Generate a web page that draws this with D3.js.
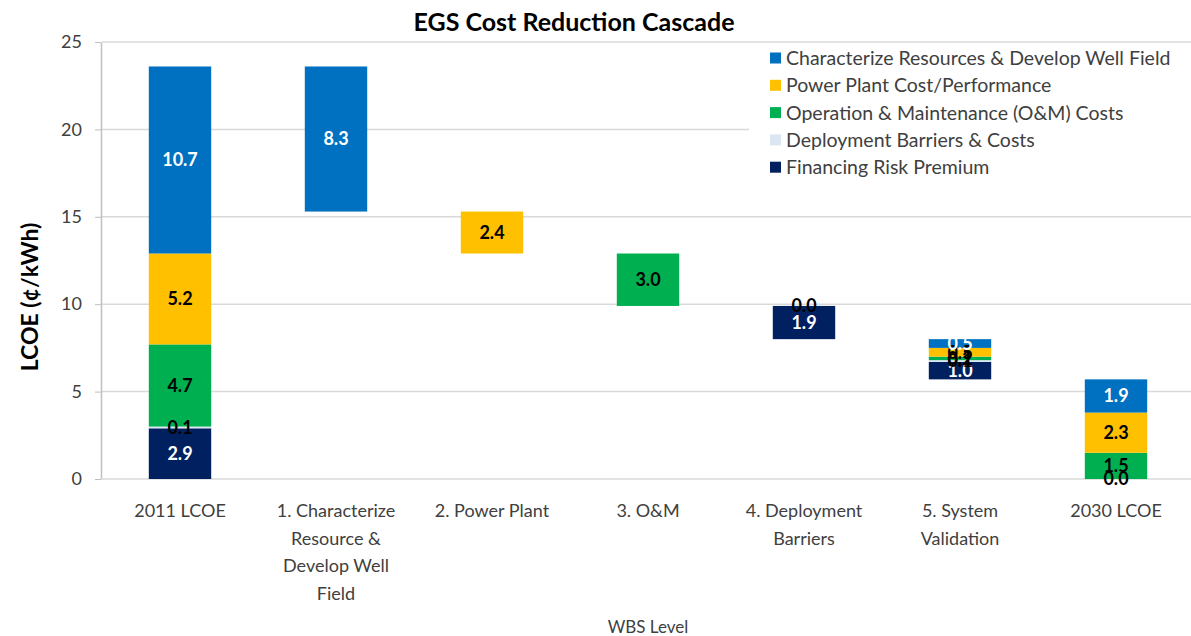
<!DOCTYPE html>
<html>
<head>
<meta charset="utf-8">
<script src="https://cdn.jsdelivr.net/npm/d3@7"></script>
<style>
  body { margin: 0; background: #fff; }
  svg { font-family: Lato, "Open Sans", sans-serif; }
  .axis path, .axis line { stroke: #BFBFBF; }
  .axis text { fill: #404040; font-size: 18px; font-family: Lato, sans-serif; }
</style>
</head>
<body>
<div id="chart"></div>
<script>
const width = 1191,
  height = 636,
  margin = { top: 42, bottom: 157, left: 102, right: -3 };

// chart data
const categories = ["2011 LCOE", "1. Characterize Resource & Develop Well Field", "2. Power Plant",
  "3. O&M", "4. Deployment Barriers", "5. System Validation", "2030 LCOE"];
const categoryLines = [["2011 LCOE"], ["1. Characterize", "Resource &", "Develop Well", "Field"],
  ["2. Power Plant"], ["3. O&M"], ["4. Deployment", "Barriers"], ["5. System", "Validation"], ["2030 LCOE"]];

const seriesNames = ["Characterize Resources & Develop Well Field", "Power Plant Cost/Performance",
  "Operation & Maintenance (O&M) Costs", "Deployment Barriers & Costs", "Financing Risk Premium"];
const seriesColors = ["#0070C0", "#FFC000", "#00B050", "#DCE6F2", "#002060"];
const labelColors = ["#fff", "#000", "#000", "#000", "#fff"];

// invisible base under each floating bar
const baseValues = [0, 15.3, 12.9, 9.9, 8.0, 5.7, 0];
const financingValues = [2.9, null, null, null, 1.9, 1.0, null];
const deploymentValues = [0.1, null, null, null, 0.0, 0.1, 0.0];
const omValues = [4.7, null, null, 3.0, null, 0.2, 1.5];
const powerPlantValues = [5.2, null, 2.4, null, null, 0.5, 2.3];
const characterizeValues = [10.7, 8.3, null, null, null, 0.5, 1.9];

const yTicks = [0, 5, 10, 15, 20, 25];

// stacking order from bottom to top
const keys = ["base", "financing", "deployment", "om", "power", "characterize"];
const seriesIndex = { characterize: 0, power: 1, om: 2, deployment: 3, financing: 4 };

const rows = categories.map((c, i) => ({
  category: c,
  base: baseValues[i],
  financing: financingValues[i],
  deployment: deploymentValues[i],
  om: omValues[i],
  power: powerPlantValues[i],
  characterize: characterizeValues[i]
}));

const stacked = d3.stack()
  .keys(keys)
  .value((d, k) => d[k] == null ? 0 : d[k])(rows);

const xScale = d3.scaleBand()
  .domain(categories)
  .range([margin.left, width - margin.right])
  .paddingInner(0.6)
  .paddingOuter(0.3);

const yScale = d3.scaleLinear()
  .domain([0, 25])
  .range([height - margin.bottom, margin.top]);

const svg = d3.select("#chart")
  .append("svg")
  .attr("width", width)
  .attr("height", height);

// gridlines
svg.append("g")
  .selectAll("line")
  .data(yTicks.slice(1))
  .join("line")
  .attr("x1", margin.left)
  .attr("x2", width)
  .attr("y1", d => yScale(d))
  .attr("y2", d => yScale(d))
  .attr("stroke", "#D9D9D9")
  .attr("stroke-width", 1.5);

// y axis
const yAxis = svg.append("g")
  .attr("class", "axis y-axis")
  .attr("transform", `translate(${margin.left - 1},0)`)
  .call(d3.axisLeft(yScale).tickValues(yTicks).tickSize(6).tickPadding(13).tickSizeOuter(0));
yAxis.select(".domain").attr("stroke", "#BFBFBF").attr("stroke-width", 1.5);

// x axis line
svg.append("line")
  .attr("x1", margin.left - 1)
  .attr("x2", width)
  .attr("y1", yScale(0))
  .attr("y2", yScale(0))
  .attr("stroke", "#D9D9D9")
  .attr("stroke-width", 1.5);

// bars
const visible = stacked.filter(s => s.key !== "base");
const bars = svg.append("g");
visible.forEach(s => {
  const si = seriesIndex[s.key];
  bars.selectAll(".bar-" + s.key)
    .data(s.filter(d => d.data[s.key] != null && d.data[s.key] > 0))
    .join("rect")
    .attr("class", "bar-" + s.key)
    .attr("x", d => xScale(d.data.category))
    .attr("width", xScale.bandwidth())
    .attr("y", d => yScale(d[1]))
    .attr("height", d => yScale(d[0]) - yScale(d[1]))
    .attr("fill", seriesColors[si]);
});

// data labels
const labels = svg.append("g");
visible.forEach(s => {
  const si = seriesIndex[s.key];
  labels.selectAll(".lbl-" + s.key)
    .data(s.filter(d => d.data[s.key] != null))
    .join("text")
    .attr("class", "lbl-" + s.key)
    .attr("x", d => xScale(d.data.category) + xScale.bandwidth() / 2)
    .attr("y", d => yScale((d[0] + d[1]) / 2))
    .attr("dy", "0.36em")
    .attr("text-anchor", "middle")
    .attr("font-size", 18)
    .attr("font-weight", "bold")
    .attr("fill", labelColors[si])
    .text(d => d3.format(".1f")(d.data[s.key]));
});

// category labels
const xLabels = svg.append("g")
  .selectAll("text")
  .data(categories)
  .join("text")
  .attr("x", d => xScale(d) + xScale.bandwidth() / 2)
  .attr("y", 517)
  .attr("text-anchor", "middle")
  .attr("font-size", 18)
  .attr("fill", "#404040");
xLabels.selectAll("tspan")
  .data((d, i) => categoryLines[i])
  .join("tspan")
  .attr("x", function() { return this.parentNode.getAttribute("x"); })
  .attr("dy", (d, i) => i === 0 ? 0 : 27.5)
  .text(d => d);

// axis titles
svg.append("text")
  .attr("x", 648)
  .attr("y", 633)
  .attr("text-anchor", "middle")
  .attr("font-size", 17)
  .attr("fill", "#404040")
  .text("WBS Level");

svg.append("text")
  .attr("transform", "translate(38,297) rotate(-90)")
  .attr("text-anchor", "middle")
  .attr("font-size", 23)
  .attr("font-weight", "bold")
  .attr("fill", "#000")
  .text("LCOE (¢/kWh)");

// title
svg.append("text")
  .attr("x", 574)
  .attr("y", 31)
  .attr("text-anchor", "middle")
  .attr("font-size", 25)
  .attr("font-weight", "bold")
  .attr("fill", "#000")
  .text("EGS Cost Reduction Cascade");

// legend
const legend = svg.append("g");
legend.append("rect")
  .attr("x", 749)
  .attr("y", 44)
  .attr("width", width - 749)
  .attr("height", 146)
  .attr("fill", "#fff");
const items = legend.selectAll(".item")
  .data(seriesNames)
  .join("g")
  .attr("class", "item")
  .attr("transform", (d, i) => `translate(770,${58 + i * 27.3})`);
items.append("rect")
  .attr("x", 0)
  .attr("y", -5.5)
  .attr("width", 11)
  .attr("height", 11)
  .attr("fill", (d, i) => seriesColors[i]);
items.append("text")
  .attr("x", 16)
  .attr("dy", "0.36em")
  .attr("font-size", 19.5)
  .attr("fill", "#404040")
  .text(d => d);
</script>
</body>
</html>
